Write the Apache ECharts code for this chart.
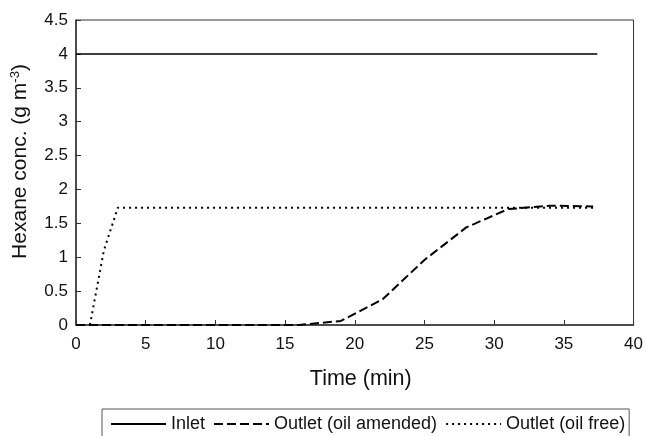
<!DOCTYPE html>
<html>
<head>
<meta charset="utf-8">
<script src="https://cdn.jsdelivr.net/npm/echarts@6/dist/echarts.min.js"></script>
<style>
  html, body { margin: 0; padding: 0; background: #fff; }
  #chart { width: 646px; height: 436px; }
</style>
</head>
<body>
<div id="chart"></div>
<script>
// Hexane concentration vs time for the inlet and the two outlet streams
const inletTime = [0, 37.4];
const inletConc = [4, 4];

const amendedTime = [0, 16, 19, 22, 25, 28, 31, 34, 37.1];
const amendedConc = [0, 0, 0.06, 0.38, 0.96, 1.44, 1.71, 1.76, 1.75];

const oilFreeTime = [1, 2, 3, 37.1];
const oilFreeConc = [0, 1.1, 1.73, 1.73];

const xTicks = [0, 5, 10, 15, 20, 25, 30, 35, 40];
const yTicks = [0, 0.5, 1, 1.5, 2, 2.5, 3, 3.5, 4, 4.5];

const seriesNames = ['Inlet', 'Outlet (oil amended)', 'Outlet (oil free)'];

function pairs(xs, ys) {
  return xs.map((x, i) => [x, ys[i]]);
}

const FONT = '"Liberation Sans", Arial, sans-serif';
const INK = '#111';
const AXIS = '#333';

const chart = echarts.init(document.getElementById('chart'), null, { renderer: 'canvas' });

chart.setOption({
  animation: false,
  backgroundColor: '#fff',
  textStyle: { fontFamily: FONT },
  grid: {
    left: 76, right: 12, top: 20, bottom: 111,
    show: true, borderColor: AXIS, borderWidth: 1
  },
  xAxis: {
    type: 'value',
    min: xTicks[0], max: xTicks[xTicks.length - 1], interval: 5,
    name: 'Time (min)',
    nameLocation: 'middle',
    nameGap: 43,
    nameTextStyle: { fontSize: 21.5, color: INK, fontFamily: FONT, padding: [0, 0, 0, 12] },
    axisLine: { lineStyle: { color: AXIS, width: 1.5 } },
    axisTick: { inside: true, length: 5, lineStyle: { color: AXIS } },
    axisLabel: { fontSize: 17, color: INK, margin: 11, fontFamily: FONT },
    splitLine: { show: false }
  },
  yAxis: {
    type: 'value',
    min: yTicks[0], max: yTicks[yTicks.length - 1], interval: 0.5,
    name: '{a|Hexane conc. (g m}{s|-3}{a|)}',
    nameLocation: 'middle',
    nameGap: 44,
    nameTextStyle: {
      color: INK,
      padding: [0, 0, 0, 22],
      rich: {
        a: { fontSize: 21, color: INK, fontFamily: FONT },
        s: { fontSize: 13, color: INK, fontFamily: FONT, verticalAlign: 'top', padding: [0, 0, 10, 0] }
      }
    },
    axisLine: { lineStyle: { color: AXIS, width: 1.5 } },
    axisTick: { inside: true, length: 5, lineStyle: { color: AXIS } },
    axisLabel: { fontSize: 17, color: INK, margin: 8, fontFamily: FONT },
    splitLine: { show: false }
  },
  legend: {
    data: seriesNames,
    left: 102, top: 409,
    orient: 'horizontal',
    padding: [6, 4, 12, 8],
    itemWidth: 55, itemHeight: 10, itemGap: 8,
    itemStyle: { opacity: 0 },
    borderColor: '#555', borderWidth: 1,
    textStyle: { fontSize: 18, color: INK, fontFamily: FONT }
  },
  series: [
    {
      name: seriesNames[0], type: 'line', data: pairs(inletTime, inletConc),
      symbol: 'none', lineStyle: { color: '#000', width: 1.5, type: 'solid' },
      itemStyle: { color: '#000' }
    },
    {
      name: seriesNames[1], type: 'line', data: pairs(amendedTime, amendedConc),
      symbol: 'none', lineStyle: { color: '#000', width: 2, type: [9, 4] },
      itemStyle: { color: '#000' }
    },
    {
      name: seriesNames[2], type: 'line', data: pairs(oilFreeTime, oilFreeConc),
      symbol: 'none', lineStyle: { color: '#000', width: 2, type: [2, 4] },
      itemStyle: { color: '#000' }
    }
  ]
});
</script>
</body>
</html>
